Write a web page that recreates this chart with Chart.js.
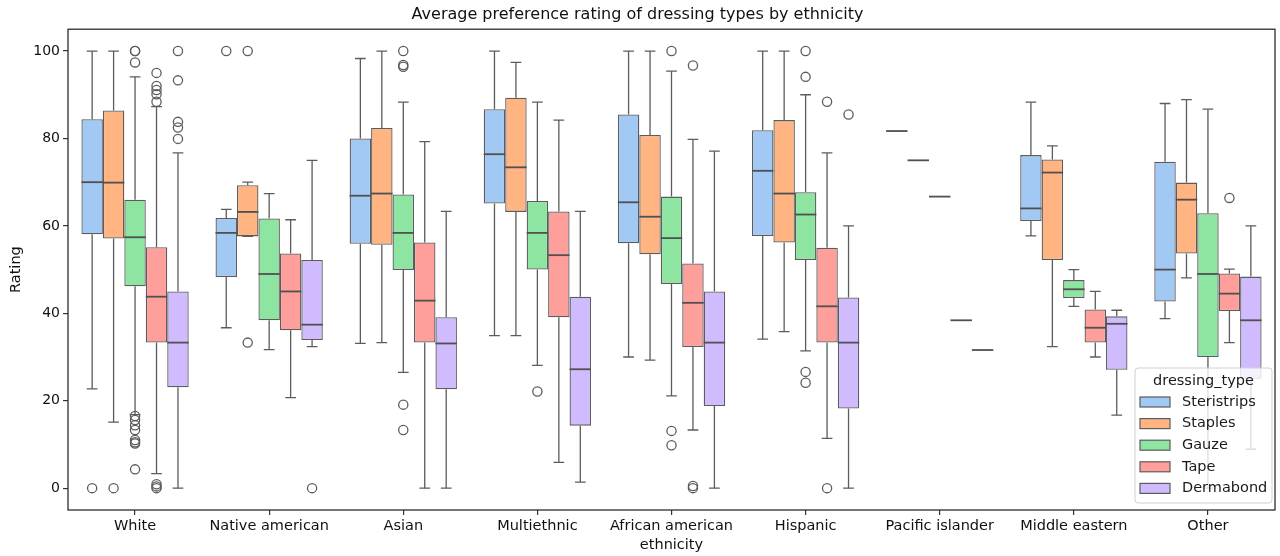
<!DOCTYPE html>
<html>
<head>
<meta charset="utf-8">
<script src="https://cdn.jsdelivr.net/npm/chart.js@4.4.1/dist/chart.umd.min.js"></script>
<style>
  html, body { margin: 0; padding: 0; background: #fff; }
  #wrap { width: 1280px; height: 556px; position: relative; }
</style>
</head>
<body>
<div id="wrap"><canvas id="c"></canvas></div>
<script>
// ---------- DATA ----------
const categories = ["White", "Native american", "Asian", "Multiethnic", "African american", "Hispanic", "Pacific islander", "Middle eastern", "Other"];
const seriesNames = ["Steristrips", "Staples", "Gauze", "Tape", "Dermabond"];
const yTicks = [0, 20, 40, 60, 80, 100];

// each row: [lower whisker, Q1, median, Q3, upper whisker], one per category
const steristripsStats = [
  [22.7, 58.1, 70.0, 84.4, 100], [36.7, 48.3, 58.4, 61.8, 63.8], [33.1, 55.9, 66.9, 80.0, 98.3],
  [34.9, 65.1, 76.4, 86.7, 100], [30.0, 56.0, 65.4, 85.5, 100], [34.1, 57.7, 72.6, 81.9, 100],
  [81.7, 81.7, 81.7, 81.7, 81.7], [57.7, 61.1, 64.0, 76.2, 88.3], [38.8, 42.7, 50.0, 74.7, 88.0]
];
const staplesStats = [
  [15.1, 57.1, 69.9, 86.4, 100], [57.6, 57.6, 63.2, 69.3, 70.0], [33.3, 55.7, 67.4, 82.4, 100],
  [34.9, 63.2, 73.4, 89.3, 97.4], [29.3, 53.5, 62.1, 80.8, 100], [35.8, 56.2, 67.4, 84.2, 100],
  [75.0, 75.0, 75.0, 75.0, 75.0], [32.4, 52.2, 72.2, 75.2, 78.3], [48.1, 53.7, 66.0, 69.9, 88.9]
];
const gauzeStats = [
  [16.8, 46.2, 57.4, 66.0, 94.1], [31.7, 38.4, 49.0, 61.7, 67.4], [26.5, 49.9, 58.4, 67.2, 88.3],
  [28.1, 50.0, 58.4, 65.7, 88.3], [21.1, 46.7, 57.2, 66.7, 95.4], [31.4, 52.2, 62.6, 67.7, 90.0],
  [66.7, 66.7, 66.7, 66.7, 66.7], [41.6, 43.5, 45.5, 47.6, 50.0], [0, 30.0, 49.0, 62.9, 86.7]
];
const tapeStats = [
  [3.3, 33.3, 43.8, 55.1, 87.3], [20.7, 36.1, 45.0, 53.7, 61.4], [0, 33.3, 42.9, 56.2, 79.3],
  [5.9, 39.1, 53.3, 63.3, 84.2], [13.3, 32.3, 42.4, 51.4, 79.8], [11.4, 33.3, 41.6, 55.0, 76.7],
  [38.4, 38.4, 38.4, 38.4, 38.4], [30.0, 33.3, 36.7, 40.9, 45.0], [33.3, 40.5, 44.5, 49.1, 50.1]
];
const dermabondStats = [
  [0, 23.1, 33.3, 45.0, 76.7], [32.4, 33.9, 37.4, 52.2, 75.0], [0, 22.6, 33.1, 39.1, 63.3],
  [1.4, 14.3, 27.2, 43.8, 63.3], [0, 18.8, 33.3, 45.0, 77.1], [0, 18.2, 33.3, 43.6, 60.0],
  [31.6, 31.6, 31.6, 31.6, 31.6], [16.7, 27.1, 37.6, 39.3, 40.7], [8.9, 25.0, 38.4, 48.4, 60.0]
];

// outliers, one list per category
const steristripsOutliers = [[0], [100], [], [], [], [], [], [], []];
const staplesOutliers = [[0], [100, 33.3], [], [], [], [], [], [], []];
const gauzeOutliers = [
  [100, 100, 97.4, 16.5, 15.6, 14.4, 13.3, 11.0, 10.5, 10.2, 4.3], [], [100, 96.8, 96.4, 19.1, 13.3],
  [22.1], [100, 13.1, 9.8], [100, 94.1, 26.6, 24.1], [], [], []
];
const tapeOutliers = [
  [95.0, 92.0, 91.1, 90.1, 88.4, 0.9, 0.4, 0], [], [], [], [96.7, 0.5, 0], [88.4, 0], [], [], [66.4]
];
const dermabondOutliers = [[100, 93.3, 83.8, 82.5, 79.9], [0], [], [], [], [85.5], [], [], []];

const seriesColors = ["#a1c9f4", "#ffb482", "#8de5a1", "#ff9f9b", "#d0bbff"];

// ---------- BUILD ----------
const allStats = [steristripsStats, staplesStats, gauzeStats, tapeStats, dermabondStats];
const allOutliers = [steristripsOutliers, staplesOutliers, gauzeOutliers, tapeOutliers, dermabondOutliers];
const LINE = "#5c5c5c";
const FONT = "'DejaVu Sans', sans-serif";

const datasets = seriesNames.map((name, d) => ({
  label: name,
  data: allStats[d].map(s => [s[1], s[3]]),
  backgroundColor: seriesColors[d],
  borderColor: LINE,
  borderWidth: 1.3,
  borderSkipped: false,
  categoryPercentage: 0.8,
  barPercentage: 1.0
}));

const boxPlugin = {
  id: "boxWhiskers",
  afterDatasetsDraw(chart) {
    const ctx = chart.ctx;
    const ys = chart.scales.y;
    ctx.save();
    ctx.strokeStyle = LINE;
    ctx.lineWidth = 1.3;
    chart.data.datasets.forEach((ds, d) => {
      const meta = chart.getDatasetMeta(d);
      meta.data.forEach((el, i) => {
        const s = allStats[d][i];
        const x = el.x, w = el.width;
        const pLo = ys.getPixelForValue(s[0]);
        const pQ1 = ys.getPixelForValue(s[1]);
        const pMed = ys.getPixelForValue(s[2]);
        const pQ3 = ys.getPixelForValue(s[3]);
        const pHi = ys.getPixelForValue(s[4]);
        ctx.beginPath();
        if (pHi < pQ3) { ctx.moveTo(x, pQ3); ctx.lineTo(x, pHi); }
        if (pLo > pQ1) { ctx.moveTo(x, pQ1); ctx.lineTo(x, pLo); }
        ctx.stroke();
        if (s[4] !== s[3] || s[0] !== s[1]) {
          ctx.beginPath();
          ctx.moveTo(x - w * 0.25, pHi); ctx.lineTo(x + w * 0.25, pHi);
          ctx.moveTo(x - w * 0.25, pLo); ctx.lineTo(x + w * 0.25, pLo);
          ctx.stroke();
        }
        ctx.save();
        ctx.lineWidth = 1.8;
        ctx.strokeStyle = "#505050";
        ctx.beginPath();
        ctx.moveTo(x - w / 2, pMed); ctx.lineTo(x + w / 2, pMed);
        ctx.stroke();
        ctx.restore();
        allOutliers[d][i].forEach(v => {
          const py = ys.getPixelForValue(v);
          ctx.beginPath();
          ctx.arc(x, py, 4.6, 0, Math.PI * 2);
          ctx.stroke();
        });
      });
    });
    ctx.restore();
  },
  afterDraw(chart) {
    const ctx = chart.ctx;
    const a = chart.chartArea;
    ctx.save();
    ctx.strokeStyle = "#262626";
    ctx.lineWidth = 1.25;
    ctx.strokeRect(a.left, a.top, a.right - a.left, a.bottom - a.top);
    const lw = 137, lh = 135;
    const lx = a.right - 3 - lw, ly = a.bottom - 7 - lh;
    ctx.fillStyle = "rgba(255,255,255,0.8)";
    ctx.strokeStyle = "#d0d0d0";
    ctx.lineWidth = 1;
    ctx.beginPath();
    ctx.roundRect(lx, ly, lw, lh, 3);
    ctx.fill();
    ctx.stroke();
    ctx.fillStyle = "#1a1a1a";
    ctx.font = "14.5px " + FONT;
    ctx.textBaseline = "middle";
    ctx.textAlign = "center";
    ctx.fillText("dressing_type", lx + lw / 2, ly + 13);
    ctx.textAlign = "left";
    seriesNames.forEach((name, d) => {
      const cy = ly + 34 + d * 21.6;
      ctx.fillStyle = seriesColors[d];
      ctx.fillRect(lx + 5, cy - 5, 30, 10);
      ctx.strokeStyle = LINE;
      ctx.lineWidth = 1.2;
      ctx.strokeRect(lx + 5, cy - 5, 30, 10);
      ctx.fillStyle = "#1a1a1a";
      ctx.fillText(name, lx + 47, cy);
    });
    ctx.restore();
  }
};

new Chart(document.getElementById("c"), {
  type: "bar",
  data: { labels: categories, datasets },
  plugins: [boxPlugin],
  options: {
    responsive: true,
    maintainAspectRatio: false,
    animation: false,
    layout: { padding: { left: 0, right: 5, top: 0, bottom: 0 } },
    plugins: {
      legend: { display: false },
      tooltip: { enabled: false },
      title: {
        display: true,
        text: "Average preference rating of dressing types by ethnicity",
        color: "#111",
        font: { family: FONT, size: 16, weight: "normal" },
        padding: { top: 5, bottom: 5 }
      }
    },
    scales: {
      x: {
        offset: true,
        border: { display: false },
        grid: { display: true, drawOnChartArea: false, drawTicks: true, tickLength: 5, offset: false, color: "#333", lineWidth: 1.2 },
        ticks: { color: "#111", font: { family: FONT, size: 14.5 }, padding: 3, maxRotation: 0, autoSkip: false },
        title: { display: true, text: "ethnicity", color: "#111", font: { family: FONT, size: 14.5 }, padding: { top: 0, bottom: 2 } },
        afterFit(scale) { scale.height = 46; }
      },
      y: {
        min: -5,
        max: 105,
        border: { display: false },
        grid: { display: true, drawOnChartArea: false, drawTicks: true, tickLength: 5, color: "#333", lineWidth: 1.2 },
        ticks: { color: "#111", font: { family: FONT, size: 14 }, padding: 3 },
        afterBuildTicks(scale) { scale.ticks = yTicks.map(v => ({ value: v })); },
        title: { display: true, text: "Rating", color: "#111", font: { family: FONT, size: 14.5 }, padding: { top: 8, bottom: 0 } },
        afterFit(scale) { scale.width = 68; }
      }
    }
  }
});
</script>
</body>
</html>
